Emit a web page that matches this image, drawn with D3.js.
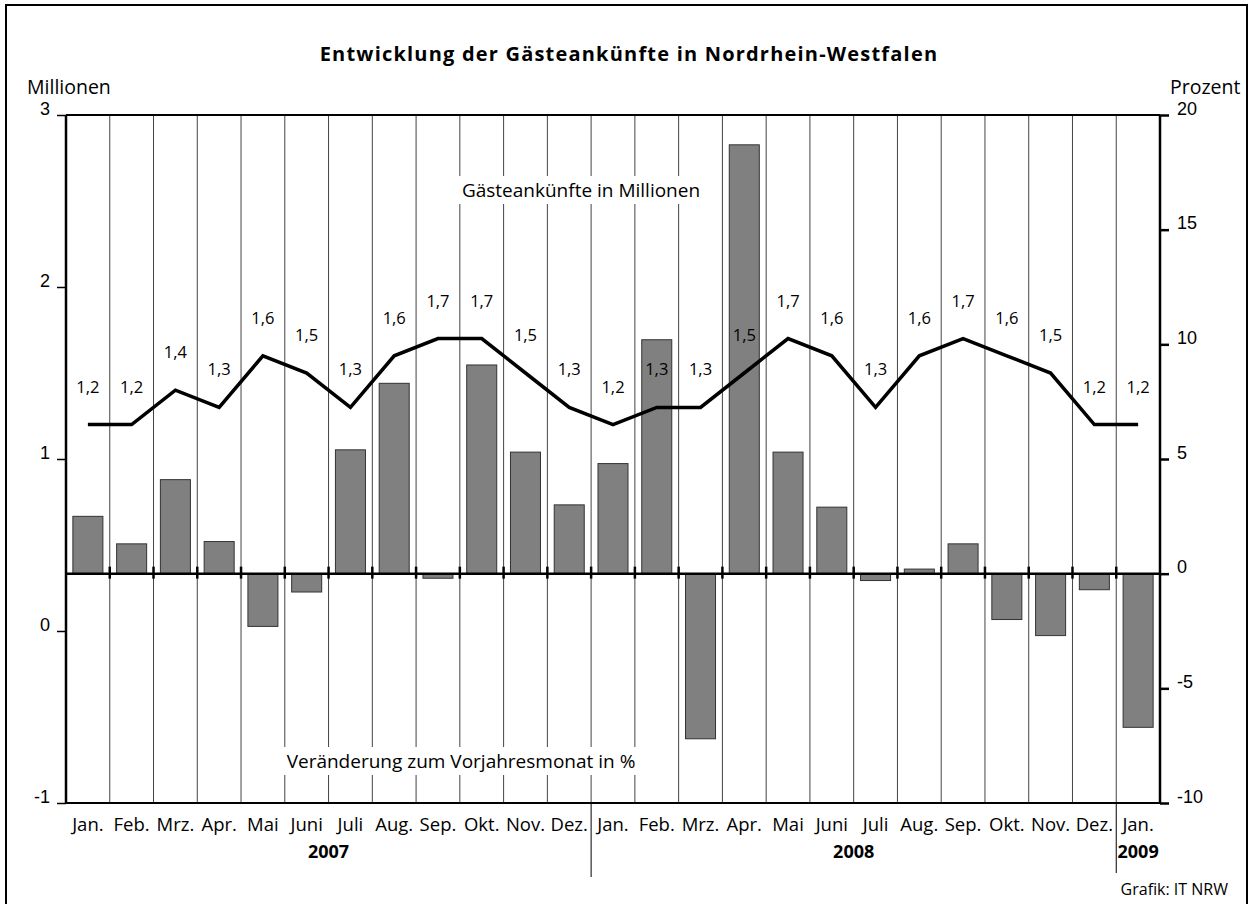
<!DOCTYPE html>
<html>
<head>
<meta charset="utf-8">
<script src="https://cdn.jsdelivr.net/npm/d3@7"></script>
<style>
  body { margin: 0; background: #fff; }
  svg { display: block; font-family: "Open Sans", "Noto Sans", sans-serif; }
</style>
</head>
<body>
<svg id="chart" width="1255" height="904"></svg>
<script>
// Monatsbeschriftungen (Jan. 2007 bis Jan. 2009)
let months = ["Jan.", "Feb.", "Mrz.", "Apr.", "Mai", "Juni", "Juli", "Aug.", "Sep.", "Okt.", "Nov.", "Dez.",
              "Jan.", "Feb.", "Mrz.", "Apr.", "Mai", "Juni", "Juli", "Aug.", "Sep.", "Okt.", "Nov.", "Dez.",
              "Jan."];
let years = ["2007", "2008", "2009"];
let yearMonths = [12, 12, 1];

// Gästeankünfte in Millionen (Linie)
let guests = [1.2, 1.2, 1.4, 1.3, 1.6, 1.5, 1.3, 1.6, 1.7, 1.7, 1.5, 1.3,
              1.2, 1.3, 1.3, 1.5, 1.7, 1.6, 1.3, 1.6, 1.7, 1.6, 1.5, 1.2,
              1.2];
// Veränderung zum Vorjahresmonat in % (Säulen)
let change = [2.5, 1.3, 4.1, 1.4, -2.3, -0.8, 5.4, 8.3, -0.2, 9.1, 5.3, 3.0,
              4.8, 10.2, -7.2, 18.7, 5.3, 2.9, -0.3, 0.2, 1.3, -2.0, -2.7, -0.7,
              -6.7];

let leftTicks = [-1, 0, 1, 2, 3];
let rightTicks = [-10, -5, 0, 5, 10, 15, 20];

let svg = d3.select('#chart');
let pLeft = 66, pRight = 1160, pTop = 115, pBottom = 803;
let fmtInt = d => String(d);   // Bindestrich statt Minuszeichen

let x = d3.scaleBand()
    .domain(d3.range(months.length))
    .range([pLeft, pRight])
    .padding(0);
let yL = d3.scaleLinear().domain([-1, 3]).range([pBottom, pTop]);
let yR = d3.scaleLinear().domain([-10, 20]).range([pBottom, pTop]);
let bw = x.bandwidth();

// Rahmen
svg.append('rect')
    .attr('x', 6).attr('y', 5)
    .attr('width', 1241).attr('height', 920)
    .attr('fill', 'none')
    .attr('stroke', '#000')
    .attr('stroke-width', 2);

// Titel
svg.append('text')
    .attr('x', 629).attr('y', 61)
    .attr('text-anchor', 'middle')
    .style('font-size', '20px')
    .style('font-weight', 'bold')
    .style('letter-spacing', '1.2px')
    .text('Entwicklung der Gästeankünfte in Nordrhein-Westfalen');

svg.append('text').attr('x', 27).attr('y', 94)
    .style('font-size', '19.5px').text('Millionen');
svg.append('text').attr('x', 1170).attr('y', 94)
    .style('font-size', '19.5px').text('Prozent');

// senkrechte Trennlinien zwischen den Monaten
let bounds = d3.range(1, months.length).map(i => x(i));
svg.append('g').selectAll('line')
    .data(bounds)
    .join('line')
    .attr('x1', d => d).attr('x2', d => d)
    .attr('y1', pTop).attr('y2', pBottom)
    .attr('stroke', '#444')
    .attr('stroke-width', 1);

// Säulen
svg.append('g').selectAll('rect')
    .data(change)
    .join('rect')
    .attr('x', (d, i) => x(i) + bw * 0.157)
    .attr('width', bw * 0.686)
    .attr('y', d => Math.min(yR(d), yR(0)))
    .attr('height', d => Math.abs(yR(d) - yR(0)))
    .attr('fill', '#808080')
    .attr('stroke', '#333')
    .attr('stroke-width', 1);

// Nulllinie mit kleinen Markierungen
svg.append('line')
    .attr('x1', pLeft).attr('x2', pRight)
    .attr('y1', yR(0)).attr('y2', yR(0))
    .attr('stroke', '#000').attr('stroke-width', 2.5);
svg.append('g').selectAll('line')
    .data(bounds)
    .join('line')
    .attr('x1', d => d).attr('x2', d => d)
    .attr('y1', yR(0) - 7).attr('y2', yR(0) + 5)
    .attr('stroke', '#000').attr('stroke-width', 2.5);

// Beschriftungen mit weißem Hintergrund
function boxLabel(txt, cx, cy) {
    let g = svg.append('g');
    let t = g.append('text')
        .attr('x', cx).attr('y', cy)
        .attr('text-anchor', 'middle')
        .attr('dominant-baseline', 'central')
        .style('font-size', '19px')
        .text(txt);
    let bb = t.node().getBBox();
    g.insert('rect', 'text')
        .attr('x', bb.x - 3).attr('y', bb.y - 1)
        .attr('width', bb.width + 6).attr('height', bb.height + 2)
        .attr('fill', '#fff');
}
boxLabel('Gästeankünfte in Millionen', 581, 190);
boxLabel('Veränderung zum Vorjahresmonat in %', 461, 761);

// Linie Gästeankünfte
let line = d3.line()
    .x((d, i) => x(i) + bw / 2)
    .y(d => yL(d));
svg.append('path')
    .datum(guests)
    .attr('d', line)
    .attr('fill', 'none')
    .attr('stroke', '#000')
    .attr('stroke-width', 3.5)
    .attr('stroke-linejoin', 'miter');

svg.append('g').selectAll('text')
    .data(guests)
    .join('text')
    .attr('x', (d, i) => x(i) + bw / 2)
    .attr('y', d => yL(d) - 32)
    .attr('text-anchor', 'middle')
    .style('font-size', '16.5px')
    .text(d => d3.format('.1f')(d).replace('.', ','));

// Rahmenlinien des Diagramms
svg.append('line').attr('x1', pLeft).attr('x2', pRight).attr('y1', pTop).attr('y2', pTop)
    .attr('stroke', '#000').attr('stroke-width', 2);
svg.append('line').attr('x1', pLeft).attr('x2', pRight).attr('y1', pBottom).attr('y2', pBottom)
    .attr('stroke', '#000').attr('stroke-width', 2);

// linke Achse
let axL = svg.append('g')
    .attr('transform', `translate(${pLeft},0)`)
    .call(d3.axisLeft(yL).tickValues(leftTicks).tickSize(9).tickPadding(7)
        .tickFormat(fmtInt));
axL.select('.domain').attr('stroke-width', 2.5).attr('d', `M0,${pTop}V${pBottom}`);
axL.selectAll('.tick line').attr('stroke-width', 1.5);
axL.selectAll('.tick text').style('font-size', '18px').attr('font-family', null)
    .attr('dy', '-0.05em');

// rechte Achse
let axR = svg.append('g')
    .attr('transform', `translate(${pRight},0)`)
    .call(d3.axisRight(yR).tickValues(rightTicks).tickSize(9).tickPadding(8)
        .tickFormat(fmtInt));
axR.select('.domain').attr('stroke-width', 2.5).attr('d', `M0,${pTop}V${pBottom}`);
axR.selectAll('.tick line').attr('stroke-width', 2.5);
axR.selectAll('.tick text').style('font-size', '18px').attr('font-family', null)
    .attr('dy', '-0.05em');

// Monatsbeschriftung
svg.append('g').selectAll('text')
    .data(months)
    .join('text')
    .attr('x', (d, i) => x(i) + bw / 2)
    .attr('y', 831)
    .attr('text-anchor', 'middle')
    .style('font-size', '18.5px')
    .text(d => d);

// Jahre
let start = 0;
years.forEach((yr, k) => {
    let n = yearMonths[k];
    let cx = (x(start) + x(start + n - 1) + bw) / 2;
    svg.append('text')
        .attr('x', cx).attr('y', 858)
        .attr('text-anchor', 'middle')
        .style('font-size', '18px')
        .style('font-weight', 'bold')
        .text(yr);
    if (k > 0) {
        svg.append('line')
            .attr('x1', x(start)).attr('x2', x(start))
            .attr('y1', pBottom).attr('y2', k == 1 ? 877 : 873)
            .attr('stroke', '#000').attr('stroke-width', 1);
    }
    start += n;
});

svg.append('text')
    .attr('x', 1228).attr('y', 895)
    .attr('text-anchor', 'end')
    .style('font-size', '16px')
    .text('Grafik: IT NRW');
</script>
</body>
</html>
